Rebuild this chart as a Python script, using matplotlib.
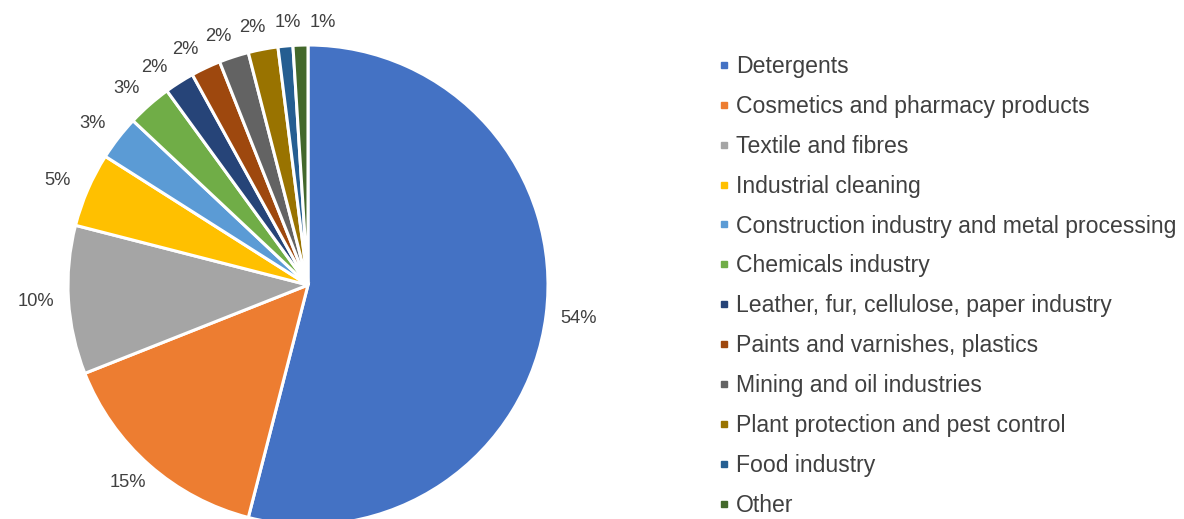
import matplotlib.pyplot as plt
from matplotlib.lines import Line2D
import numpy as np

plt.rcParams["font.family"] = ["Liberation Sans", "DejaVu Sans"]

sectores = ["Detergents", "Cosmetics and pharmacy products", "Textile and fibres",
            "Industrial cleaning", "Construction industry and metal processing",
            "Chemicals industry", "Leather, fur, cellulose, paper industry",
            "Paints and varnishes, plastics", "Mining and oil industries",
            "Plant protection and pest control", "Food industry", "Other"]
porcentaje = [54, 15, 10, 5, 3, 3, 2, 2, 2, 2, 1, 1]
colores = ["#4472C4", "#ED7D31", "#A5A5A5", "#FFC000", "#5B9BD5", "#70AD47",
           "#264478", "#9E480E", "#636363", "#997300", "#255E91", "#43682B"]

fig = plt.figure(figsize=(11.84, 5.19), dpi=100)
# pie on the left, radius 240 px, centre at (308, 285) from top-left
ax = fig.add_axes([0, 0, 616 / 1184, 1])

wedges, _ = ax.pie(porcentaje, colors=colores, startangle=90, counterclock=False,
                   radius=1, wedgeprops=dict(edgecolor="white", linewidth=2.2))

# label angles (degrees clockwise from top), spread apart so small slices don't collide
total = sum(porcentaje)
angulos = []
inicio = 0
for v in porcentaje:
    angulos.append((inicio + v / 2) / total * 360)
    inicio += v
angulos = np.array(angulos)
gap = 7.5
for _ in range(200):
    for i in range(len(angulos) - 1):
        d = angulos[i + 1] - angulos[i]
        if d < gap:
            angulos[i] -= (gap - d) / 2
            angulos[i + 1] += (gap - d) / 2

# percentage labels just outside each slice, pushed out by half their size
for v, a in zip(porcentaje, angulos):
    t = np.radians(a)
    ax.annotate(f"{v}%", xy=(1.06 * np.sin(t), 1.06 * np.cos(t)),
                xytext=(18 * np.sin(t), 9 * np.cos(t)), textcoords="offset pixels",
                ha="center", va="center", fontsize=13.2, color="#404040")

ax.set_aspect("auto")
ax.set_xlim(-308 / 240, 308 / 240)
ax.set_ylim(-(519 - 285) / 240, 285 / 240)
ax.axis("off")

handles = [Line2D([], [], marker="s", linestyle="", markersize=5,
                  markerfacecolor=c, markeredgecolor=c) for c in colores]
fig.legend(handles, sectores, loc="center left", bbox_to_anchor=(0.6075, 0.449),
           frameon=False, fontsize=16.6, labelcolor="#404040",
           handlelength=0.45, handletextpad=0.27, labelspacing=0.735,
           borderpad=0, borderaxespad=0)

fig.savefig("out.png", dpi=100)
